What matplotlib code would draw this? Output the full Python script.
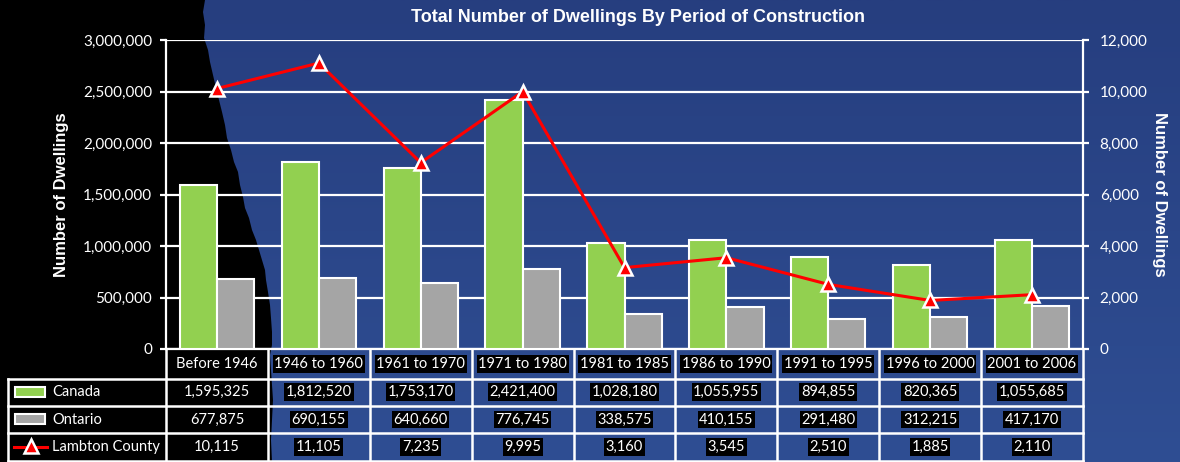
import numpy as np
import matplotlib
matplotlib.use("Agg")
import matplotlib.pyplot as plt
import matplotlib.transforms as mtransforms
from matplotlib.patches import Rectangle, Polygon
from matplotlib.lines import Line2D

periods = ["Before 1946", "1946 to 1960", "1961 to 1970", "1971 to 1980", "1981 to 1985",
           "1986 to 1990", "1991 to 1995", "1996 to 2000", "2001 to 2006"]
canada = [1595325, 1812520, 1753170, 2421400, 1028180, 1055955, 894855, 820365, 1055685]
ontario = [677875, 690155, 640660, 776745, 338575, 410155, 291480, 312215, 417170]
lambton = [10115, 11105, 7235, 9995, 3160, 3545, 2510, 1885, 2110]

W, H = 1180, 462
green = "#92D050"
grey = "#A5A5A5"
red = "#FF0000"
tfont = "Lato"

fig = plt.figure(figsize=(W / 100, H / 100), dpi=100)

# background: blue gradient with ragged black area on the left
bg = fig.add_axes([0, 0, 1, 1], zorder=-10)
bg.set_xlim(0, W)
bg.set_ylim(H, 0)
bg.axis("off")
top_c = np.array([0x26, 0x3E, 0x7F]) / 255
bot_c = np.array([0x2F, 0x4E, 0x93]) / 255
t = np.linspace(0, 1, 200)[:, None]
grad = (top_c * (1 - t) + bot_c * t)[:, None, :]
bg.imshow(grad, extent=[0, W, H, 0], aspect="auto")
edge = [(205, 0), (203, 12), (205, 25), (204, 38), (208, 50), (210, 62), (213, 75),
        (216, 88), (219, 100), (222, 112), (225, 125), (227, 138), (231, 150),
        (234, 162), (238, 172), (240, 185), (243, 197), (245, 208), (249, 218),
        (252, 230), (256, 240), (259, 250), (262, 260), (265, 270), (266, 280),
        (268, 292), (270, 305), (271, 318), (272, 332), (272, 345), (270, 355),
        (271, 370), (272, 385), (273, 400), (272, 420), (271, 440), (272, 462)]
bg.add_patch(Polygon([(0, 0)] + edge + [(0, H)], closed=True, color="black", lw=0))

# main chart
x0, x1, y0, y1 = 166, 1083, 40, 349
ax = fig.add_axes([x0 / W, 1 - y1 / H, (x1 - x0) / W, (y1 - y0) / H])
ax.patch.set_alpha(0)
n = len(periods)
x = np.arange(n)
bw = 0.365
ax.bar(x - bw / 2, canada, bw, color=green, edgecolor="white", linewidth=1.5, zorder=3)
ax.bar(x + bw / 2, ontario, bw, color=grey, edgecolor="white", linewidth=1.5, zorder=3)
ax.set_xlim(-0.5, n - 0.5)
ax.set_ylim(0, 3000000)
ax.set_yticks(np.arange(0, 3000001, 500000))
ax.yaxis.set_major_formatter(matplotlib.ticker.FuncFormatter(lambda v, p: f"{int(v):,}"))
ax.set_xticks([])
ax.grid(axis="y", color="white", linewidth=1.6, zorder=1)
ax.set_axisbelow(True)
for s in ["left", "bottom", "right"]:
    ax.spines[s].set_color("white")
    ax.spines[s].set_linewidth(1.6)
ax.spines["top"].set_visible(False)
ax.tick_params(axis="y", colors="white", length=4, width=1.6, labelsize=11, pad=6)
for lab in ax.get_yticklabels():
    lab.set_fontfamily(tfont)
ax.set_ylabel("Number of Dwellings", color="white", fontsize=12, fontweight="bold",
              family="Liberation Sans", labelpad=10)

ax2 = ax.twinx()
ax2.patch.set_alpha(0)
ax2.plot(x, lambton, color=red, linewidth=2.2, marker="^", markersize=10,
         markerfacecolor=red, markeredgecolor="white", markeredgewidth=1.8, zorder=5)
ax2.set_ylim(0, 12000)
ax2.set_yticks(np.arange(0, 12001, 2000))
ax2.yaxis.set_major_formatter(matplotlib.ticker.FuncFormatter(lambda v, p: f"{int(v):,}"))
for s in ax2.spines.values():
    s.set_visible(False)
ax2.tick_params(axis="y", colors="white", length=4, width=1.6, labelsize=11, pad=8)
for lab in ax2.get_yticklabels():
    lab.set_fontfamily(tfont)
ax2.set_ylabel("Number of Dwellings", color="white", fontsize=12, fontweight="bold",
               family="Liberation Sans", rotation=270, labelpad=14)

fig.text(638 / W, 1 - 17 / H, "Total Number of Dwellings By Period of Construction",
         color="white", fontsize=13, fontweight="bold", family="Liberation Sans",
         ha="center", va="center")

# data table under the chart
trans = mtransforms.blended_transform_factory(ax.transData, ax.transAxes)
rows_py = [364, 392, 419.5, 447]
row_y = [(y1 - py) / (y1 - y0) for py in rows_py]
box = dict(facecolor="black", edgecolor="none", pad=1.2)
for i in range(n):
    ax.text(x[i], row_y[0], periods[i], transform=trans, ha="center", va="center",
            color="white", fontsize=10.5, family=tfont, bbox=box, clip_on=False)
    for r, vals in zip(row_y[1:], [canada, ontario, lambton]):
        ax.text(x[i], r, f"{vals[i]:,}", transform=trans, ha="center", va="center",
                color="white", fontsize=10.5, family=tfont, bbox=box, clip_on=False)

lw = 1.8
col_w = (x1 - x0) / n
for yy in [378.5, 406, 433, 460.5]:
    bg.plot([8, x1], [yy, yy], color="white", lw=lw)
bg.plot([8, 8], [378.5, H], color="white", lw=lw)
for k in range(n + 1):
    xx = x0 + k * col_w
    bg.plot([xx, xx], [y1, H], color="white", lw=lw)

# legend keys in the table
bg.add_patch(Rectangle((15, 387), 30, 10, facecolor=green, edgecolor="white", lw=1.5))
bg.add_patch(Rectangle((15, 414), 30, 10, facecolor=grey, edgecolor="white", lw=1.5))
bg.add_line(Line2D([14, 47], [447, 447], color=red, lw=2.2))
bg.plot([30.5], [446], marker="^", markersize=10, color=red,
        markeredgecolor="white", markeredgewidth=1.8)
for txt, py in zip(["Canada", "Ontario", "Lambton County"], rows_py[1:]):
    bg.text(52, py, txt, color="white", fontsize=10.5, family=tfont, va="center", ha="left")

fig.savefig("out.png", dpi=100)
